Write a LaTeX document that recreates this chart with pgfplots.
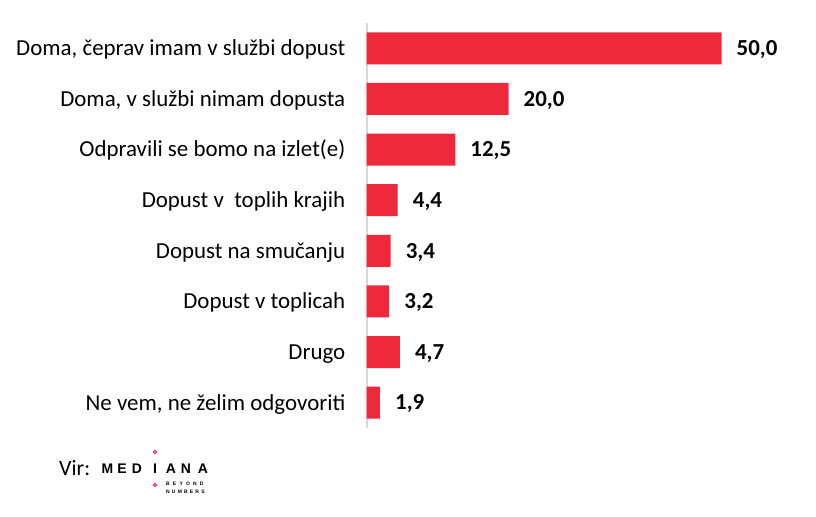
\documentclass[border=0pt]{standalone}
\usepackage{fontspec}
\setmainfont{Carlito}
\newfontfamily\logofont{Liberation Sans}
\usepackage{pgfplots}
\pgfplotsset{compat=1.18}
\definecolor{barred}{RGB}{238,41,60}
\definecolor{axgrey}{RGB}{217,217,217}
\definecolor{logopink}{RGB}{232,50,90}
\begin{document}
\begin{tikzpicture}[x=1bp,y=1bp]
\useasboundingbox (0,0) rectangle (816,517);
\begin{axis}[
  at={(366.5bp,494bp)}, anchor=north west,
  scale only axis, width=355bp, height=405bp,
  xmin=0, xmax=50, ymin=-0.5, ymax=7.5,
  y dir=reverse,
  xbar, bar width=32bp,
  axis x line=none,
  axis y line*=left,
  y axis line style={draw=axgrey, line width=2bp, -},
  ytick={0,...,7},
  yticklabels={{Doma, čeprav imam v službi dopust},{Doma, v službi nimam dopusta},{Odpravili se bomo na izlet(e)},{Dopust v~ toplih krajih},{Dopust na smučanju},{Dopust v toplicah},{Drugo},{Ne vem, ne želim odgovoriti}},
  major tick length=0pt,
  ytick style={draw=none},
  yticklabel style={font=\fontsize{23}{27}\selectfont, anchor=base east, inner sep=0pt, xshift=-21bp, yshift=-7.4bp},
  clip=false,
  nodes near coords,
  point meta=x,
  nodes near coords style={font=\fontsize{23}{27}\selectfont\bfseries, anchor=base west, inner sep=0pt, xshift=15bp, yshift=-7.3bp,
    /pgf/number format/.cd, fixed, fixed zerofill, precision=1, use comma, assume math mode=true},
]
\addplot[fill=barred, draw=none] coordinates {
(50.0,0) (20.0,1) (12.5,2) (4.4,3) (3.4,4) (3.2,5) (4.7,6) (1.9,7)
};
\end{axis}
% source line and logo
\node[anchor=base west, inner sep=0pt, font=\fontsize{22}{26}\selectfont] at (59,41) {Vir:};
\foreach \c/\xx in {M/107.5,E/122,D/137,I/155,A/171,N/186,A/203}{
  \node[anchor=base, inner sep=0pt, font=\logofont\bfseries\fontsize{14}{16}\selectfont] at (\xx,43) {\c};
}
\draw[logopink, line width=1bp] (155,65) circle (1.6);
\draw[logopink, line width=1bp] (155,32) circle (1.6);
\node[anchor=base west, inner sep=0pt, font=\logofont\bfseries\fontsize{5}{6}\selectfont] at (166,31) {B\hspace{3.2bp}E\hspace{3.2bp}Y\hspace{3.2bp}O\hspace{3.2bp}N\hspace{3.2bp}D};
\node[anchor=base west, inner sep=0pt, font=\logofont\bfseries\fontsize{5}{6}\selectfont] at (166,23.5) {N\hspace{2.2bp}U\hspace{2.2bp}M\hspace{2.2bp}B\hspace{2.2bp}E\hspace{2.2bp}R\hspace{2.2bp}S};
\end{tikzpicture}
\end{document}
